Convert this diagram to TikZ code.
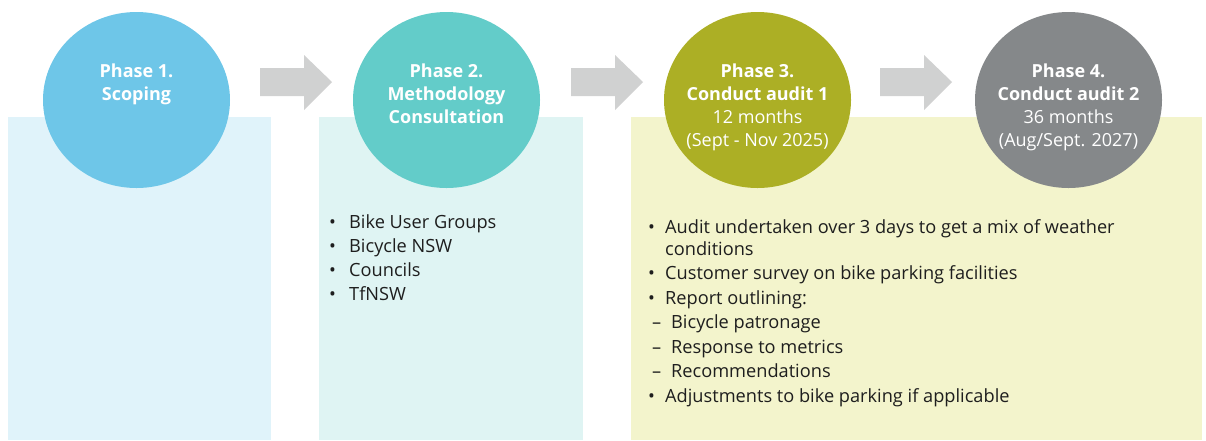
\documentclass[tikz,border=0pt]{standalone}
\usepackage{fontspec}
\setmainfont{Open Sans}
\usepackage{tikz}
\usepackage{xcolor}

\definecolor{phaseBlue}{RGB}{110,198,232}
\definecolor{phaseTeal}{RGB}{99,204,201}
\definecolor{phaseOlive}{RGB}{172,175,37}
\definecolor{phaseGrey}{RGB}{133,136,138}
\definecolor{panelBlue}{RGB}{224,243,250}
\definecolor{panelTeal}{RGB}{223,244,243}
\definecolor{panelOlive}{RGB}{243,244,204}
\definecolor{arrowGrey}{RGB}{208,209,209}
\definecolor{listText}{RGB}{30,30,30}

\begin{document}
\begin{tikzpicture}[x=1pt,y=1pt,yscale=-1,xscale=1,
  phase/.style={anchor=north,inner sep=0pt,align=center,text=white,font=\fontsize{18}{23}\selectfont},
  items/.style={anchor=north west,inner sep=0pt,align=left,text=listText,font=\fontsize{18.2}{22}\selectfont}]
\useasboundingbox (0,0) rectangle (1206,440);

%Shape: Rectangle [panels]
\fill [panelBlue] (8,117) rectangle (271,440);
\fill [panelTeal] (319,117) rectangle (583,440);
\fill [panelOlive] (631,117) rectangle (1202,440);

%Shape: Right Arrow [between phases]
\foreach \ax in {260,571,880} {
  \fill [arrowGrey] (\ax,68) -- (\ax+44,68) -- (\ax+44,55) -- (\ax+72,82) -- (\ax+44,110) -- (\ax+44,96) -- (\ax,96) -- cycle;
}

%Shape: Circle [phases]
\fill [phaseBlue] (136.5,100) ellipse [x radius=93.5, y radius=88];
\fill [phaseTeal] (446.5,100) ellipse [x radius=93.5, y radius=88];
\fill [phaseOlive] (757.5,100) ellipse [x radius=93.5, y radius=88];
\fill [phaseGrey] (1068.5,100) ellipse [x radius=93.5, y radius=88];

% Text Node
\node [phase] (ph1) at (136.5,64) {\textbf{Phase 1.}\\\textbf{Scoping}};
% Text Node
\node [phase] (ph2) at (446.5,64) {\textbf{Phase 2.}\\\textbf{Methodology}\\\textbf{Consultation}};
% Text Node
\node [phase] (ph3) at (757.5,64) {\textbf{Phase 3.}\\\textbf{Conduct audit 1}\\12 months\\(Sept - Nov 2025)};
% Text Node
\node [phase] (ph4) at (1068.5,64) {\textbf{Phase 4.}\\\textbf{Conduct audit 2}\\36 months\\(Aug/Sept. 2027)};

% Text Node
\node [items] (list2) at (329,214) {\makebox[20pt][l]{\textbullet}Bike User Groups\\[2pt]
  \makebox[20pt][l]{\textbullet}Bicycle NSW\\[2pt]
  \makebox[20pt][l]{\textbullet}Councils\\[2pt]
  \makebox[20pt][l]{\textbullet}TfNSW};
% Text Node
\node [items] (list3) at (648,219) {\makebox[17pt][l]{\textbullet}Audit undertaken over 3 days to get a mix of weather\\
  \hspace*{17pt}conditions\\[2.5pt]
  \makebox[17pt][l]{\textbullet}Customer survey on bike parking facilities\\[2.5pt]
  \makebox[17pt][l]{\textbullet}Report outlining:\\[2.5pt]
  \makebox[23pt][l]{\hspace{4pt}--}Bicycle patronage\\[2.5pt]
  \makebox[23pt][l]{\hspace{4pt}--}Response to metrics\\[2.5pt]
  \makebox[23pt][l]{\hspace{4pt}--}Recommendations\\[2.5pt]
  \makebox[17pt][l]{\textbullet}Adjustments to bike parking if applicable};

\end{tikzpicture}
\end{document}
